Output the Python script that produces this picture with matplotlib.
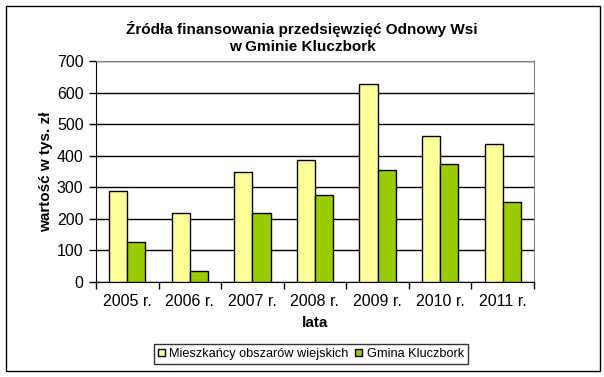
import matplotlib
matplotlib.use("Agg")
import matplotlib.pyplot as plt
import numpy as np
from matplotlib.patches import Rectangle

categories = ["2005 r.", "2006 r.", "2007 r.", "2008 r.", "2009 r.", "2010 r.", "2011 r."]
mieszkancy = [289, 217, 349, 385, 626, 463, 436]
gmina = [128, 34, 217, 275, 354, 373, 252]
series_names = ["Mieszkańcy obszarów wiejskich", "Gmina Kluczbork"]
yticks = [0, 100, 200, 300, 400, 500, 600, 700]

plt.rcParams['font.family'] = ['Liberation Sans', 'DejaVu Sans']

fig = plt.figure(figsize=(6.04, 3.77), dpi=100)
W, H = 604, 377
ax = fig.add_axes([96 / W, 1 - 282 / H, (534 - 96) / W, (282 - 61) / H])

x = np.arange(len(categories))
bw = 0.29
ax.bar(x - bw / 2, mieszkancy, bw, color="#FFFF99", edgecolor="black", linewidth=1.0, zorder=3,
       label=series_names[0])
ax.bar(x + bw / 2, gmina, bw, color="#99CC00", edgecolor="black", linewidth=1.0, zorder=3,
       label=series_names[1])

ax.set_xlim(-0.5, len(categories) - 0.5)
ax.set_ylim(0, 700)
ax.set_yticks(yticks)
ax.set_yticklabels([str(v) for v in yticks], fontsize=11.5)
ax.yaxis.grid(True, color="black", linewidth=1.0, zorder=0)
ax.set_axisbelow(True)

ax.set_xticks(x)
ax.set_xticklabels(categories, fontsize=11.5)
ax.tick_params(axis="x", length=0, pad=9)
ax.set_xticks(np.arange(-0.5, len(categories), 1), minor=True)
ax.tick_params(axis="x", which="minor", length=5, width=1, direction="out")
ax.tick_params(axis="y", length=5, width=1, direction="out", pad=4)

for s in ["top", "right"]:
    ax.spines[s].set_color("#808080")
for s in ["left", "bottom"]:
    ax.spines[s].set_color("black")

ax.set_ylabel("wartość w tys. zł", fontsize=11, fontweight="bold", labelpad=3)
ax.set_xlabel("lata", fontsize=11, fontweight="bold", labelpad=5)

fig.text(0.5, 1 - 37.5 / H, "Źródła finansowania przedsięwzięć Odnowy Wsi\nw Gminie Kluczbork",
         ha="center", va="center", fontsize=11, fontweight="bold", linespacing=1.3)

leg = ax.legend(loc="center", bbox_to_anchor=((311 - 96) / 438, -(354 - 282) / 221),
                ncol=2, fontsize=9.2, frameon=True, fancybox=False, edgecolor="black",
                handlelength=0.55, handleheight=0.55, handletextpad=0.35, columnspacing=0.5,
                borderpad=0.3, borderaxespad=0)
leg.get_frame().set_linewidth(1.0)

fig.patches.append(Rectangle((6 / W, 1 - 371 / H), (600 - 6) / W, (371 - 6) / H,
                             transform=fig.transFigure, fill=False, edgecolor="black",
                             linewidth=1.0))

fig.savefig("out.png", dpi=100)
